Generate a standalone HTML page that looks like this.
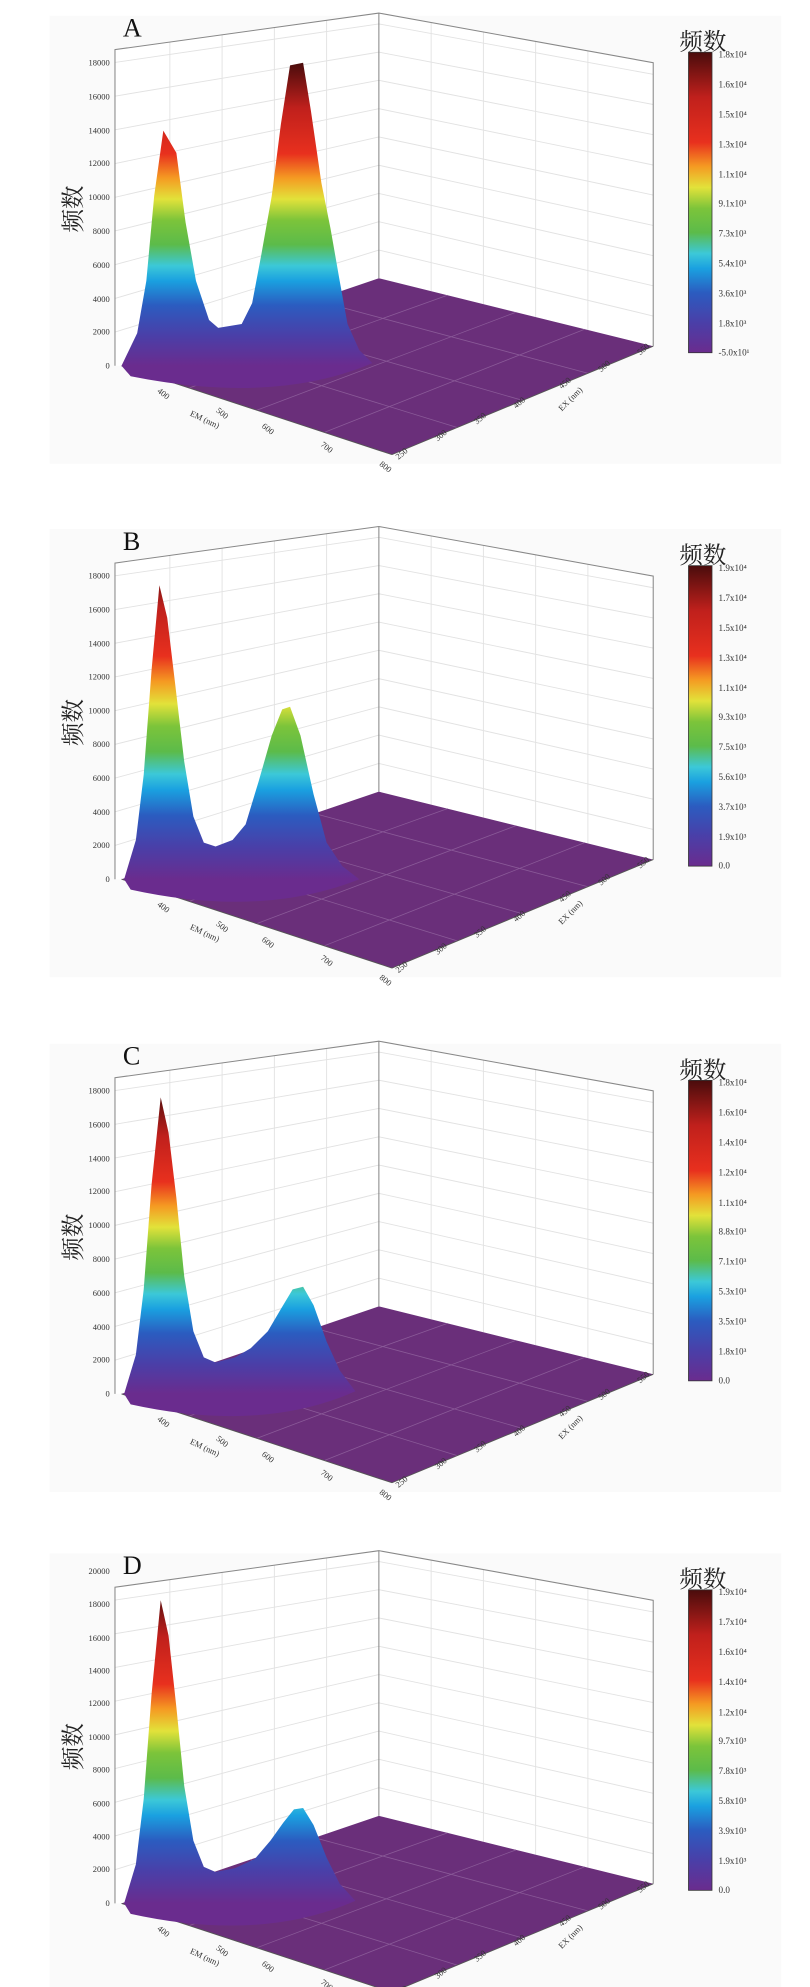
<!DOCTYPE html>
<html><head><meta charset="utf-8"><style>
html,body{margin:0;padding:0;background:#fff}
svg{display:block}
text{font-family:"Liberation Serif","Noto Serif CJK SC",serif;fill:#333}
.t{font-size:6.5px}
.l{font-size:7px}
.h{font-size:18px;font-family:"Liberation Serif","Noto Serif CJK SC","Noto Sans CJK SC",serif;fill:#222}
.L{font-size:20px;fill:#111}
</style></head><body>
<svg width="810" height="1987" viewBox="0 0 620 1521" xmlns="http://www.w3.org/2000/svg">
<defs>
<linearGradient id="cb" x1="0" y1="1" x2="0" y2="0">
<stop offset="0" stop-color="#6a2c8e"/><stop offset="0.1" stop-color="#4a3fa8"/><stop offset="0.2" stop-color="#2b5cc0"/><stop offset="0.28" stop-color="#1aa0e0"/><stop offset="0.33" stop-color="#3cc8d8"/><stop offset="0.4" stop-color="#5cbb4a"/><stop offset="0.48" stop-color="#7cc43a"/><stop offset="0.55" stop-color="#e2e23a"/><stop offset="0.62" stop-color="#f59a22"/><stop offset="0.7" stop-color="#e8301e"/><stop offset="0.85" stop-color="#c0201c"/><stop offset="1" stop-color="#4a0c0c"/>
</linearGradient>
<linearGradient id="gA" href="#cb" gradientUnits="userSpaceOnUse" x1="0" y1="280" x2="0" y2="48"/>
<linearGradient id="gB" href="#cb" gradientUnits="userSpaceOnUse" x1="0" y1="280" x2="0" y2="36"/>
<linearGradient id="gD" href="#cb" gradientUnits="userSpaceOnUse" x1="0" y1="280" x2="0" y2="40"/>
<g id="frame">
<rect x="38" y="12" width="560" height="343" fill="#fafafa"/>
<polygon points="88,38 290,10 290,213 93,280 88,280" fill="#fff"/>
<polygon points="290,10 500,48 500,265 290,213" fill="#fff"/>
<g stroke="#e2e2e2" stroke-width="0.7" fill="none">
<line x1="88" y1="254.2" x2="290" y2="191.4"/><line x1="88" y1="228.4" x2="290" y2="169.7"/><line x1="88" y1="202.6" x2="290" y2="148.1"/><line x1="88" y1="176.8" x2="290" y2="126.5"/><line x1="88" y1="151" x2="290" y2="104.8"/><line x1="88" y1="125.2" x2="290" y2="83.2"/><line x1="88" y1="99.4" x2="290" y2="61.5"/><line x1="88" y1="73.6" x2="290" y2="39.9"/><line x1="88" y1="47.8" x2="290" y2="18.3"/>
<line x1="290" y1="191.4" x2="500" y2="241.9"/><line x1="290" y1="169.7" x2="500" y2="218.8"/><line x1="290" y1="148.1" x2="500" y2="195.7"/><line x1="290" y1="126.5" x2="500" y2="172.6"/><line x1="290" y1="104.8" x2="500" y2="149.3"/><line x1="290" y1="83.2" x2="500" y2="126.3"/><line x1="290" y1="61.5" x2="500" y2="103.1"/><line x1="290" y1="39.9" x2="500" y2="80"/><line x1="290" y1="18.3" x2="500" y2="56.9"/>
<line x1="130" y1="267.4" x2="130" y2="32.2"/><line x1="170" y1="253.7" x2="170" y2="26.6"/><line x1="210" y1="240.1" x2="210" y2="21.1"/><line x1="250" y1="226.5" x2="250" y2="15.5"/>
<line x1="330" y1="222.9" x2="330" y2="17.2"/><line x1="370" y1="232.8" x2="370" y2="24.5"/><line x1="410" y1="242.7" x2="410" y2="31.7"/><line x1="450" y1="252.6" x2="450" y2="38.9"/>
</g>
<g stroke="#888" stroke-width="0.8" fill="none">
<polyline points="88,280 88,38 290,10 500,48 500,265"/>
<line x1="290" y1="10" x2="290" y2="213"/>
</g>
<polygon points="93,280 290,213 500,265 300,348" fill="#6a2f7a"/>
<g stroke="#8a5a98" stroke-width="0.6" fill="none">
<line x1="144.75" y1="297" x2="342.5" y2="226"/><line x1="196.5" y1="314" x2="395" y2="239"/><line x1="248.25" y1="331" x2="447.5" y2="252"/>
<line x1="142.25" y1="263.25" x2="350" y2="327.25"/><line x1="191.5" y1="246.5" x2="400" y2="306.5"/><line x1="240.75" y1="229.75" x2="450" y2="285.75"/>
</g>
<g stroke="#555" stroke-width="0.7"><line x1="93" y1="280" x2="300" y2="348"/><line x1="300" y1="348" x2="500" y2="265"/></g>
</g>
</defs>

<!-- Panel A -->
<g>
<use href="#frame"/>
<path d="M93,280 L105,255 L112,215 L118,150 L125,100 L135,117 L142,170 L150,215 L160,245 L167,251 L185,248 L193,232 L200,195 L208,150 L215,95 L222,50 L232,48 L238,85 L246,140 L253,175 L260,215 L266,248 L275,268 L285,278 Q210,310 100,288 Z" fill="url(#gA)"/>
<text class="L" x="94" y="28">A</text>
<g class="t" text-anchor="end"><text x="84" y="50">18000</text><text x="84" y="76">16000</text><text x="84" y="102">14000</text><text x="84" y="127">12000</text><text x="84" y="153">10000</text><text x="84" y="179">8000</text><text x="84" y="205">6000</text><text x="84" y="231">4000</text><text x="84" y="256">2000</text><text x="84" y="282">0</text></g>
<text class="h" transform="translate(62,178) rotate(-90)">频数</text>
<text class="h" x="520" y="38">频数</text>
<rect x="527" y="40" width="18" height="230" fill="url(#cb)" stroke="#333" stroke-width="0.6"/>
<g class="l"><text x="550" y="44">1.8x10⁴</text><text x="550" y="67">1.6x10⁴</text><text x="550" y="90">1.5x10⁴</text><text x="550" y="113">1.3x10⁴</text><text x="550" y="136">1.1x10⁴</text><text x="550" y="158">9.1x10³</text><text x="550" y="181">7.3x10³</text><text x="550" y="204">5.4x10³</text><text x="550" y="227">3.6x10³</text><text x="550" y="250">1.8x10³</text><text x="550" y="272">-5.0x10¹</text></g>
<g class="t"><text transform="translate(120,300) rotate(38)">400</text><text transform="translate(165,315) rotate(38)">500</text><text transform="translate(200,327) rotate(38)">600</text><text transform="translate(245,341) rotate(38)">700</text><text transform="translate(290,356) rotate(38)">800</text><text transform="translate(145,318) rotate(25)">EM (nm)</text>
<text transform="translate(305,352) rotate(-40)">250</text><text transform="translate(335,338) rotate(-40)">300</text><text transform="translate(365,325) rotate(-40)">350</text><text transform="translate(395,313) rotate(-40)">400</text><text transform="translate(430,298) rotate(-40)">450</text><text transform="translate(460,285) rotate(-40)">500</text><text transform="translate(490,272) rotate(-40)">550</text><text transform="translate(430,315) rotate(-45)">EX (nm)</text></g>
</g>

<!-- Panel B -->
<g transform="translate(0,393)">
<use href="#frame"/>
<path d="M95,280 L104,250 L110,200 L116,120 L122,55 L128,80 L134,130 L141,190 L148,232 L156,252 L165,255 L178,250 L188,238 L198,205 L208,170 L216,150 L222,148 L230,170 L240,215 L250,252 L262,270 L275,280 Q200,310 100,288 Z" fill="url(#gB)"/>
<text class="L" x="94" y="28">B</text>
<g class="t" text-anchor="end"><text x="84" y="50">18000</text><text x="84" y="76">16000</text><text x="84" y="102">14000</text><text x="84" y="127">12000</text><text x="84" y="153">10000</text><text x="84" y="179">8000</text><text x="84" y="205">6000</text><text x="84" y="231">4000</text><text x="84" y="256">2000</text><text x="84" y="282">0</text></g>
<text class="h" transform="translate(62,178) rotate(-90)">频数</text>
<text class="h" x="520" y="38">频数</text>
<rect x="527" y="40" width="18" height="230" fill="url(#cb)" stroke="#333" stroke-width="0.6"/>
<g class="l"><text x="550" y="44">1.9x10⁴</text><text x="550" y="67">1.7x10⁴</text><text x="550" y="90">1.5x10⁴</text><text x="550" y="113">1.3x10⁴</text><text x="550" y="136">1.1x10⁴</text><text x="550" y="158">9.3x10³</text><text x="550" y="181">7.5x10³</text><text x="550" y="204">5.6x10³</text><text x="550" y="227">3.7x10³</text><text x="550" y="250">1.9x10³</text><text x="550" y="272">0.0</text></g>
<g class="t"><text transform="translate(120,300) rotate(38)">400</text><text transform="translate(165,315) rotate(38)">500</text><text transform="translate(200,327) rotate(38)">600</text><text transform="translate(245,341) rotate(38)">700</text><text transform="translate(290,356) rotate(38)">800</text><text transform="translate(145,318) rotate(25)">EM (nm)</text>
<text transform="translate(305,352) rotate(-40)">250</text><text transform="translate(335,338) rotate(-40)">300</text><text transform="translate(365,325) rotate(-40)">350</text><text transform="translate(395,313) rotate(-40)">400</text><text transform="translate(430,298) rotate(-40)">450</text><text transform="translate(460,285) rotate(-40)">500</text><text transform="translate(490,272) rotate(-40)">550</text><text transform="translate(430,315) rotate(-45)">EX (nm)</text></g>
</g>

<!-- Panel C -->
<g transform="translate(0,787)">
<use href="#frame"/>
<path d="M95,280 L104,250 L110,200 L116,120 L123,53 L129,80 L135,130 L141,190 L148,232 L156,252 L165,256 L180,252 L192,245 L205,232 L215,215 L224,200 L232,198 L240,212 L250,240 L260,262 L272,278 Q200,310 100,288 Z" fill="url(#gA)"/>
<text class="L" x="94" y="28">C</text>
<g class="t" text-anchor="end"><text x="84" y="50">18000</text><text x="84" y="76">16000</text><text x="84" y="102">14000</text><text x="84" y="127">12000</text><text x="84" y="153">10000</text><text x="84" y="179">8000</text><text x="84" y="205">6000</text><text x="84" y="231">4000</text><text x="84" y="256">2000</text><text x="84" y="282">0</text></g>
<text class="h" transform="translate(62,178) rotate(-90)">频数</text>
<text class="h" x="520" y="38">频数</text>
<rect x="527" y="40" width="18" height="230" fill="url(#cb)" stroke="#333" stroke-width="0.6"/>
<g class="l"><text x="550" y="44">1.8x10⁴</text><text x="550" y="67">1.6x10⁴</text><text x="550" y="90">1.4x10⁴</text><text x="550" y="113">1.2x10⁴</text><text x="550" y="136">1.1x10⁴</text><text x="550" y="158">8.8x10³</text><text x="550" y="181">7.1x10³</text><text x="550" y="204">5.3x10³</text><text x="550" y="227">3.5x10³</text><text x="550" y="250">1.8x10³</text><text x="550" y="272">0.0</text></g>
<g class="t"><text transform="translate(120,300) rotate(38)">400</text><text transform="translate(165,315) rotate(38)">500</text><text transform="translate(200,327) rotate(38)">600</text><text transform="translate(245,341) rotate(38)">700</text><text transform="translate(290,356) rotate(38)">800</text><text transform="translate(145,318) rotate(25)">EM (nm)</text>
<text transform="translate(305,352) rotate(-40)">250</text><text transform="translate(335,338) rotate(-40)">300</text><text transform="translate(365,325) rotate(-40)">350</text><text transform="translate(395,313) rotate(-40)">400</text><text transform="translate(430,298) rotate(-40)">450</text><text transform="translate(460,285) rotate(-40)">500</text><text transform="translate(490,272) rotate(-40)">550</text><text transform="translate(430,315) rotate(-45)">EX (nm)</text></g>
</g>

<!-- Panel D -->
<g transform="translate(0,1177)">
<use href="#frame"/>
<path d="M95,280 L104,250 L110,200 L116,120 L123,48 L129,75 L135,130 L141,190 L148,232 L156,252 L165,256 L180,253 L195,246 L207,232 L217,218 L225,208 L232,207 L240,220 L250,245 L260,265 L272,278 Q200,310 100,288 Z" fill="url(#gD)"/>
<text class="L" x="94" y="28">D</text>
<g class="t" text-anchor="end"><text x="84" y="28">20000</text><text x="84" y="53">18000</text><text x="84" y="79">16000</text><text x="84" y="104">14000</text><text x="84" y="129">12000</text><text x="84" y="155">10000</text><text x="84" y="180">8000</text><text x="84" y="206">6000</text><text x="84" y="231">4000</text><text x="84" y="256">2000</text><text x="84" y="282">0</text></g>
<text class="h" transform="translate(62,178) rotate(-90)">频数</text>
<text class="h" x="520" y="38">频数</text>
<rect x="527" y="40" width="18" height="230" fill="url(#cb)" stroke="#333" stroke-width="0.6"/>
<g class="l"><text x="550" y="44">1.9x10⁴</text><text x="550" y="67">1.7x10⁴</text><text x="550" y="90">1.6x10⁴</text><text x="550" y="113">1.4x10⁴</text><text x="550" y="136">1.2x10⁴</text><text x="550" y="158">9.7x10³</text><text x="550" y="181">7.8x10³</text><text x="550" y="204">5.8x10³</text><text x="550" y="227">3.9x10³</text><text x="550" y="250">1.9x10³</text><text x="550" y="272">0.0</text></g>
<g class="t"><text transform="translate(120,300) rotate(38)">400</text><text transform="translate(165,315) rotate(38)">500</text><text transform="translate(200,327) rotate(38)">600</text><text transform="translate(245,341) rotate(38)">700</text><text transform="translate(290,356) rotate(38)">800</text><text transform="translate(145,318) rotate(25)">EM (nm)</text>
<text transform="translate(305,352) rotate(-40)">250</text><text transform="translate(335,338) rotate(-40)">300</text><text transform="translate(365,325) rotate(-40)">350</text><text transform="translate(395,313) rotate(-40)">400</text><text transform="translate(430,298) rotate(-40)">450</text><text transform="translate(460,285) rotate(-40)">500</text><text transform="translate(490,272) rotate(-40)">550</text><text transform="translate(430,315) rotate(-45)">EX (nm)</text></g>
</g>
</svg>
</body></html>
